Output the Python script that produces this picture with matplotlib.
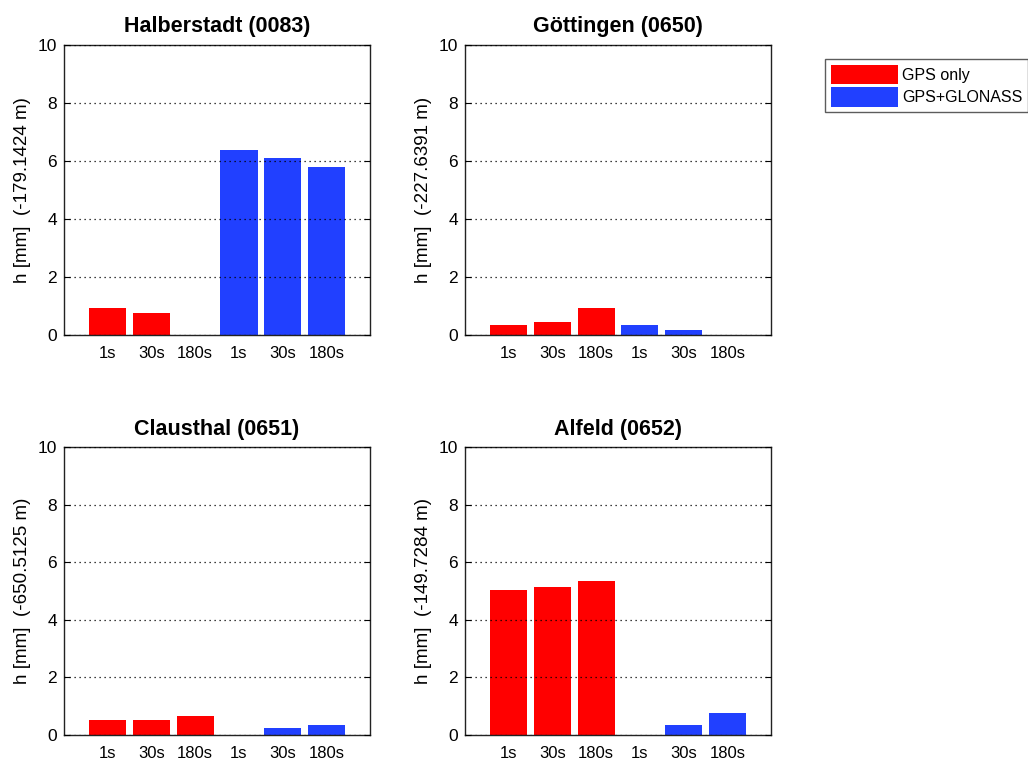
import numpy as np
import matplotlib.pyplot as plt

plt.rcParams['font.family'] = ['Liberation Sans', 'DejaVu Sans']

stations = ['Halberstadt (0083)', 'Göttingen (0650)', 'Clausthal (0651)', 'Alfeld (0652)']
offsets = ['-179.1424', '-227.6391', '-650.5125', '-149.7284']
tick_labels = ['1s', '30s', '180s', '1s', '30s', '180s']

# GPS only (1s, 30s, 180s), GPS+GLONASS (1s, 30s, 180s) in mm
gps_only = [
    [0.93, 0.75, 0.0],
    [0.34, 0.44, 0.94],
    [0.52, 0.52, 0.66],
    [5.03, 5.13, 5.36],
]
gps_glonass = [
    [6.38, 6.11, 5.80],
    [0.34, 0.17, 0.0],
    [0.0, 0.23, 0.35],
    [0.0, 0.34, 0.75],
]

red = '#ff0000'
blue = '#2140ff'

fig = plt.figure(figsize=(10.28, 7.6), dpi=100)

# axes rectangles (left, bottom, width, height) in figure fraction
rects = [
    [0.0623, 0.5592, 0.2977, 0.3816],
    [0.4523, 0.5592, 0.2977, 0.3816],
    [0.0623, 0.0329, 0.2977, 0.3789],
    [0.4523, 0.0329, 0.2977, 0.3789],
]

handles = None
for i, name in enumerate(stations):
    ax = fig.add_axes(rects[i])
    x1 = np.arange(1, 4)
    x2 = np.arange(4, 7)
    b1 = ax.bar(x1, gps_only[i], width=0.85, color=red, edgecolor='none')
    b2 = ax.bar(x2, gps_glonass[i], width=0.85, color=blue, edgecolor='none')
    handles = (b1, b2)
    ax.set_xlim(0, 7)
    ax.set_ylim(0, 10)
    ax.set_yticks(np.arange(0, 11, 2))
    ax.set_xticks(np.arange(1, 7))
    ax.set_xticklabels(tick_labels)
    ax.tick_params(axis='x', length=0, labelsize=12, pad=8)
    ax.tick_params(axis='y', direction='in', length=4, right=True,
                   labelsize=12.5, pad=5)
    ax.yaxis.grid(True, linestyle=(0, (1, 3)), color='black', linewidth=0.9)
    ax.set_axisbelow(False)
    for sp in ax.spines.values():
        sp.set_linewidth(1.0)
        sp.set_color('#222222')
    ax.set_title(name, fontsize=15.5, fontweight='bold', pad=9)
    ax.set_ylabel('h [mm]  (' + offsets[i] + ' m)', fontsize=13.5, labelpad=5)

fig.legend(handles, ['GPS only', 'GPS+GLONASS'], loc='upper left',
           bbox_to_anchor=(825 / 1028, 1 - 59 / 760), fontsize=11.5,
           frameon=True, fancybox=False, edgecolor='#333333',
           handlelength=4.2, handleheight=1.5, handletextpad=0.3,
           borderpad=0.35, labelspacing=0.2, borderaxespad=0)

fig.savefig('out.png', dpi=100, facecolor='white')
